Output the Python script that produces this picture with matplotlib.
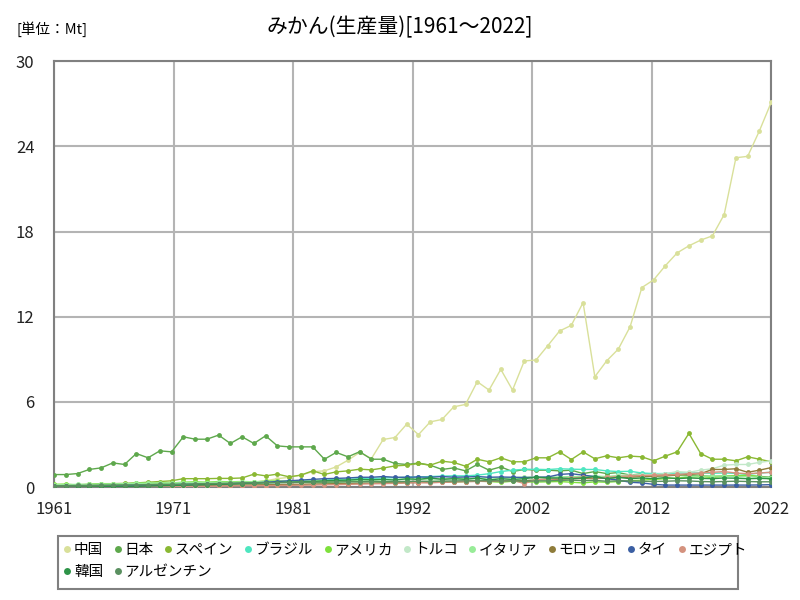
import numpy as np
import matplotlib
matplotlib.use("Agg")
import matplotlib.pyplot as plt
from matplotlib.lines import Line2D
from matplotlib.patches import Rectangle

plt.rcParams['font.family'] = ['Noto Sans CJK JP', 'DejaVu Sans']

years = list(range(1961, 2023))

china = [0.07,0.07,0.08,0.09,0.1,0.11,0.12,0.13,0.14,0.15,
         0.17,0.19,0.2,0.22,0.24,0.26,0.3,0.35,0.45,0.6,
         0.7,0.85,1.1,1.15,1.43,1.9,2.45,2.02,3.36,3.5,
         4.44,3.7,4.6,4.77,5.66,5.83,7.43,6.84,8.3,6.84,
         8.89,8.96,9.97,11.0,11.4,13.0,7.78,8.89,9.73,11.3,
         14.06,14.6,15.6,16.5,17.0,17.4,17.7,19.2,23.2,23.3,
         25.1,27.1]
japan = [0.89,0.89,0.96,1.25,1.36,1.71,1.6,2.37,2.07,2.56,
         2.49,3.55,3.38,3.38,3.67,3.08,3.55,3.08,3.62,2.91,
         2.84,2.84,2.84,1.97,2.45,2.14,2.5,1.97,1.97,1.67,
         1.6,1.7,1.55,1.25,1.36,1.15,1.6,1.2,1.43,1.1,
         1.25,1.2,1.2,1.15,1.2,0.96,1.1,0.96,1.03,0.85,
         0.95,0.87,0.92,0.9,0.8,0.83,0.76,0.8,0.77,0.79,
         0.76,0.7]
spain = [0.15,0.16,0.18,0.2,0.22,0.25,0.27,0.3,0.35,0.4,
         0.45,0.6,0.6,0.6,0.62,0.62,0.65,0.92,0.8,0.92,
         0.73,0.85,1.15,0.9,1.08,1.15,1.27,1.22,1.35,1.5,
         1.55,1.67,1.55,1.83,1.74,1.48,1.97,1.79,2.07,1.79,
         1.79,2.07,2.07,2.49,1.95,2.49,2.0,2.21,2.07,2.19,
         2.14,1.86,2.19,2.49,3.79,2.37,1.97,1.97,1.86,2.14,
         1.97,1.79]
brazil = [0.12,0.12,0.13,0.14,0.15,0.16,0.17,0.18,0.2,0.22,
          0.23,0.25,0.26,0.28,0.3,0.3,0.32,0.34,0.36,0.38,
          0.4,0.42,0.45,0.5,0.55,0.55,0.6,0.62,0.65,0.67,
          0.7,0.72,0.75,0.78,0.8,0.8,0.85,0.95,1.1,1.2,
          1.26,1.26,1.24,1.3,1.27,1.25,1.25,1.15,1.1,1.12,
          1.0,0.96,0.96,1.0,1.0,1.0,0.98,1.0,0.97,0.9,
          1.0,1.05]
usa = [0.2,0.22,0.15,0.2,0.25,0.25,0.22,0.3,0.28,0.3,
       0.3,0.35,0.38,0.35,0.4,0.38,0.4,0.38,0.42,0.45,
       0.4,0.35,0.38,0.36,0.35,0.38,0.4,0.35,0.38,0.3,
       0.35,0.38,0.4,0.42,0.38,0.4,0.45,0.4,0.35,0.42,
       0.38,0.36,0.38,0.4,0.35,0.3,0.38,0.35,0.4,0.45,
       0.5,0.55,0.6,0.65,0.7,0.75,0.68,0.78,0.8,0.85,
       0.75,0.55]
turkey = [0.02,0.02,0.03,0.03,0.04,0.04,0.05,0.05,0.06,0.07,
          0.08,0.09,0.1,0.1,0.12,0.13,0.14,0.15,0.17,0.18,
          0.2,0.22,0.24,0.25,0.28,0.3,0.32,0.35,0.4,0.38,
          0.42,0.4,0.45,0.42,0.45,0.48,0.5,0.45,0.5,0.55,
          0.5,0.55,0.6,0.65,0.7,0.72,0.75,0.72,0.85,0.85,
          0.87,0.9,0.95,1.1,1.05,1.2,1.3,1.55,1.6,1.6,
          1.75,1.85]
italy = [0.18,0.18,0.2,0.2,0.22,0.23,0.25,0.27,0.28,0.3,
         0.3,0.32,0.33,0.33,0.35,0.35,0.37,0.38,0.4,0.4,
         0.42,0.42,0.45,0.45,0.48,0.48,0.5,0.5,0.52,0.55,
         0.55,0.55,0.58,0.6,0.6,0.62,0.6,0.65,0.65,0.68,
         0.7,0.72,0.7,0.72,0.75,0.75,0.78,0.75,0.8,0.78,
         0.8,0.75,0.82,0.85,0.75,0.8,0.78,0.8,0.72,0.75,
         0.7,0.68]
morocco = [0.05,0.05,0.06,0.06,0.07,0.08,0.08,0.09,0.1,0.1,
           0.11,0.12,0.12,0.13,0.14,0.15,0.15,0.16,0.17,0.18,
           0.2,0.2,0.22,0.23,0.25,0.25,0.27,0.28,0.3,0.3,
           0.32,0.33,0.35,0.35,0.38,0.4,0.42,0.4,0.45,0.48,
           0.45,0.5,0.55,0.55,0.6,0.62,0.6,0.65,0.68,0.7,
           0.75,0.78,0.8,0.85,0.9,0.95,1.25,1.25,1.3,1.05,
           1.2,1.38]
thailand = [0.05,0.05,0.06,0.06,0.07,0.08,0.09,0.1,0.1,0.12,
            0.13,0.15,0.17,0.2,0.22,0.25,0.28,0.3,0.35,0.4,
            0.45,0.5,0.55,0.6,0.62,0.65,0.7,0.7,0.75,0.7,
            0.7,0.72,0.7,0.75,0.7,0.72,0.75,0.7,0.72,0.7,
            0.68,0.7,0.72,0.9,0.95,0.85,0.75,0.6,0.5,0.35,
            0.3,0.2,0.15,0.15,0.15,0.15,0.15,0.15,0.15,0.15,
            0.16,0.18]
egypt = [0.02,0.02,0.02,0.03,0.03,0.03,0.04,0.04,0.05,0.05,
         0.06,0.06,0.07,0.07,0.08,0.09,0.1,0.1,0.11,0.12,
         0.13,0.14,0.15,0.17,0.18,0.2,0.22,0.24,0.25,0.27,
         0.3,0.32,0.3,0.35,0.38,0.4,0.4,0.45,0.42,0.5,
         0.25,0.55,0.55,0.6,0.65,0.7,0.65,0.7,0.75,0.8,
         0.82,0.85,0.85,0.9,0.95,1.0,1.05,1.1,1.0,0.95,
         1.0,1.05]
korea = [0.01,0.01,0.02,0.02,0.03,0.04,0.05,0.06,0.08,0.1,
         0.12,0.14,0.16,0.18,0.2,0.22,0.25,0.28,0.3,0.32,
         0.35,0.38,0.4,0.45,0.48,0.5,0.55,0.52,0.55,0.5,
         0.6,0.55,0.65,0.55,0.6,0.55,0.65,0.5,0.6,0.55,
         0.6,0.7,0.65,0.65,0.6,0.65,0.75,0.6,0.7,0.6,
         0.65,0.6,0.68,0.6,0.65,0.62,0.6,0.65,0.63,0.6,
         0.62,0.6]
argentina = [0.1,0.11,0.12,0.13,0.14,0.15,0.16,0.17,0.18,0.2,
             0.2,0.22,0.24,0.25,0.26,0.28,0.3,0.3,0.32,0.33,
             0.33,0.35,0.35,0.36,0.37,0.38,0.38,0.4,0.38,0.4,
             0.4,0.42,0.4,0.42,0.44,0.45,0.45,0.46,0.44,0.45,
             0.42,0.44,0.45,0.48,0.5,0.46,0.48,0.42,0.45,0.44,
             0.42,0.4,0.42,0.45,0.44,0.4,0.38,0.4,0.42,0.4,
             0.38,0.38]

names = ['中国', '日本', 'スペイン', 'ブラジル', 'アメリカ', 'トルコ',
         'イタリア', 'モロッコ', 'タイ', 'エジプト', '韓国', 'アルゼンチン']
series = [china, japan, spain, brazil, usa, turkey, italy, morocco,
          thailand, egypt, korea, argentina]
colors = ['#d9e09a', '#5ea84c', '#8ab833', '#4ee6c0', '#7ee03c', '#c2e8c8',
          '#98ec98', '#8f7c3a', '#3b5fa3', '#d4927e', '#2e9448', '#5a9060']

yticks = [0, 6, 12, 18, 24, 30]
xtick_pos = np.linspace(1961, 2022, 7)
xtick_labels = [str(int(round(v))) for v in xtick_pos]

fig = plt.figure(figsize=(8, 6), dpi=100)
ax = fig.add_axes([0.0675, 0.188, 0.8965, 0.710])

for name, vals, c in zip(names, series, colors):
    ax.plot(years, vals, color=c, lw=1.0, marker='o', ms=3.5,
            markeredgewidth=0, label=name, zorder=3)

ax.set_xlim(1961, 2022)
ax.set_ylim(0, 30)
ax.set_yticks(yticks)
ax.set_xticks(xtick_pos)
ax.set_xticklabels(xtick_labels)
ax.grid(True, color='#b4b4b4', lw=1.5, zorder=0)
ax.set_axisbelow(True)
for s in ax.spines.values():
    s.set_color('#808080')
    s.set_linewidth(1.5)
ax.tick_params(length=0, labelsize=12, colors='#222222', pad=10)
ax.tick_params(axis='y', pad=14)

fig.text(0.5, 0.955, 'みかん(生産量)[1961～2022]', ha='center', va='center', fontsize=15)
fig.text(0.02, 0.952, '[単位：Mt]', ha='left', va='center', fontsize=10.5)

# legend: flowing rows inside one frame
def make_handles(idx):
    return [Line2D([], [], color=colors[i], marker='o', linestyle='None', ms=5,
                   markeredgewidth=0) for i in idx]

row1 = list(range(10))
row2 = [10, 11]
kw = dict(fontsize=10.5, frameon=False, handletextpad=0.05, columnspacing=0.6,
          handlelength=0.8, borderpad=0.0, borderaxespad=0.0)
leg1 = fig.legend(make_handles(row1), [names[i] for i in row1], loc='upper left',
                  bbox_to_anchor=(0.077, 1 - 543 / 600), ncol=10, **kw)
leg2 = fig.legend(make_handles(row2), [names[i] for i in row2], loc='upper left',
                  bbox_to_anchor=(0.077, 1 - 565 / 600), ncol=2, **kw)
fig.add_artist(Rectangle((58 / 800, 1 - 589 / 600), (738 - 58) / 800, (589 - 536) / 600,
                         transform=fig.transFigure, fill=False,
                         edgecolor='#808080', lw=1.5))

fig.savefig('out.png', dpi=100)
